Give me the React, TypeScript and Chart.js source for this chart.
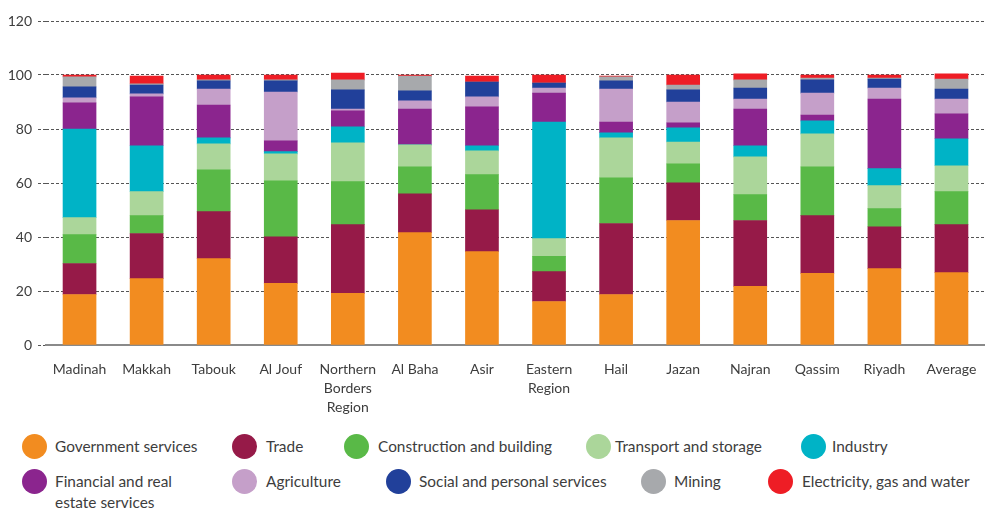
import React, { useEffect, useRef } from "react";
import { Chart, registerables } from "chart.js";

Chart.register(...registerables);

const categories: (string | string[])[] = [
  "Madinah",
  "Makkah",
  "Tabouk",
  "Al Jouf",
  ["Northern", "Borders", "Region"],
  "Al Baha",
  "Asir",
  ["Eastern", "Region"],
  "Hail",
  "Jazan",
  "Najran",
  "Qassim",
  "Riyadh",
  "Average",
];

const yTicks = [0, 20, 40, 60, 80, 100, 120];

const government = [18.7, 24.6, 32.0, 22.8, 19.1, 41.6, 34.6, 16.1, 18.7, 46.1, 21.7, 26.5, 28.3, 26.8];
const trade = [11.5, 16.7, 17.4, 17.3, 25.5, 14.4, 15.5, 11.1, 26.3, 14.0, 24.4, 21.4, 15.5, 17.8];
const construction = [10.7, 6.6, 15.5, 20.7, 15.9, 10.0, 13.0, 5.6, 16.9, 7.0, 9.6, 18.1, 6.7, 12.2];
const transport = [6.3, 8.9, 9.6, 10.0, 14.4, 8.1, 8.8, 6.6, 14.8, 8.1, 14.0, 12.2, 8.5, 9.6];
const industry = [32.8, 17.0, 2.2, 0.8, 5.9, 0, 1.9, 43.2, 1.9, 5.2, 4.1, 4.8, 6.3, 10.0];
const financial = [9.7, 18.1, 12.2, 4.0, 5.9, 13.3, 14.4, 10.7, 4.0, 1.9, 13.6, 2.2, 25.8, 9.2];
const agriculture = [1.8, 1.1, 5.9, 18.1, 0.7, 3.0, 3.7, 1.9, 12.2, 7.7, 3.7, 8.1, 4.1, 5.5];
const social = [4.1, 3.3, 3.0, 4.1, 7.1, 3.7, 5.5, 1.8, 3.0, 4.5, 4.1, 4.9, 3.3, 3.7];
const mining = [3.7, 0.4, 0.4, 0.4, 3.7, 5.5, 0, 0, 1.5, 1.8, 3.0, 0.7, 0.4, 3.7];
const electricity = [0.7, 2.9, 1.8, 1.8, 2.5, 0.4, 2.2, 3.0, 0.3, 3.7, 2.2, 1.1, 1.1, 1.9];

const seriesNames = [
  "Government services",
  "Trade",
  "Construction and building",
  "Transport and storage",
  "Industry",
  "Financial and real estate services",
  "Agriculture",
  "Social and personal services",
  "Mining",
  "Electricity, gas and water",
];

const seriesValues = [
  government,
  trade,
  construction,
  transport,
  industry,
  financial,
  agriculture,
  social,
  mining,
  electricity,
];

const seriesColors = [
  "#F28C20",
  "#961A48",
  "#59B947",
  "#ABD69A",
  "#00B3C6",
  "#8B258E",
  "#C59FC9",
  "#21409A",
  "#A7A9AC",
  "#EE1D25",
];

// legend layout: [circleLeft, rowCenterY, textLeft]
const legendLayout: [number, number, number][] = [
  [22, 446, 55],
  [232, 446, 266],
  [344, 446, 378],
  [586, 446, 615],
  [801, 446, 832],
  [22, 481, 55],
  [232, 481, 266],
  [386, 481, 419],
  [641, 481, 674],
  [768, 481, 802],
];

const FONT = "Lato, 'Open Sans', sans-serif";
const TEXT = "#3d3d3d";

export default function App() {
  const ref = useRef<HTMLCanvasElement>(null);

  useEffect(() => {
    if (!ref.current) return;
    const chart = new Chart(ref.current, {
      type: "bar",
      data: {
        labels: categories as any,
        datasets: seriesNames.map((name, i) => ({
          label: name,
          data: seriesValues[i],
          backgroundColor: seriesColors[i],
          borderWidth: 0,
          barThickness: 33,
        })),
      },
      options: {
        responsive: false,
        animation: false,
        layout: { padding: { top: 21, left: 0, right: 0, bottom: 0 } },
        plugins: {
          legend: { display: false },
          tooltip: { enabled: false },
        },
        scales: {
          x: {
            stacked: true,
            grid: { display: false },
            border: { display: true, color: "#8a8a8a", width: 2 },
            ticks: {
              color: TEXT,
              font: { family: FONT, size: 14, lineHeight: 1.36 },
              padding: 7,
              maxRotation: 0,
              autoSkip: false,
            },
            afterFit: (s: any) => {
              s.height = 75;
            },
          },
          y: {
            stacked: true,
            min: 0,
            max: 120,
            afterBuildTicks: (s: any) => {
              s.ticks = yTicks.map((v) => ({ value: v }));
            },
            ticks: {
              color: TEXT,
              font: { family: FONT, size: 14 },
              padding: 6,
            },
            grid: {
              color: "#555555",
              lineWidth: 1,
              tickLength: 8,
              drawTicks: true,
              tickBorderDash: [3, 2],
            } as any,
            border: { display: false, dash: [3, 2] },
            afterFit: (s: any) => {
              s.width = 46;
            },
          },
        },
      },
    });
    return () => chart.destroy();
  }, []);

  return (
    <div
      style={{
        position: "absolute",
        left: 0,
        top: 0,
        width: 985,
        height: 511,
        background: "#fff",
        fontFamily: FONT,
        color: TEXT,
      }}
    >
      <canvas ref={ref} width={985} height={420} style={{ display: "block" }} />
      {seriesNames.map((name, i) => {
        const [cx, cy, tx] = legendLayout[i];
        const twoLine = name === "Financial and real estate services";
        return (
          <React.Fragment key={name}>
            <div
              style={{
                position: "absolute",
                left: cx,
                top: cy - 12.5,
                width: 25,
                height: 25,
                borderRadius: "50%",
                background: seriesColors[i],
              }}
            />
            <div
              style={{
                position: "absolute",
                left: tx,
                top: cy - 10.5,
                fontSize: 15.4,
                lineHeight: "21px",
                whiteSpace: "nowrap",
              }}
            >
              {twoLine ? (
                <>
                  Financial and real
                  <br />
                  estate services
                </>
              ) : (
                name
              )}
            </div>
          </React.Fragment>
        );
      })}
    </div>
  );
}
